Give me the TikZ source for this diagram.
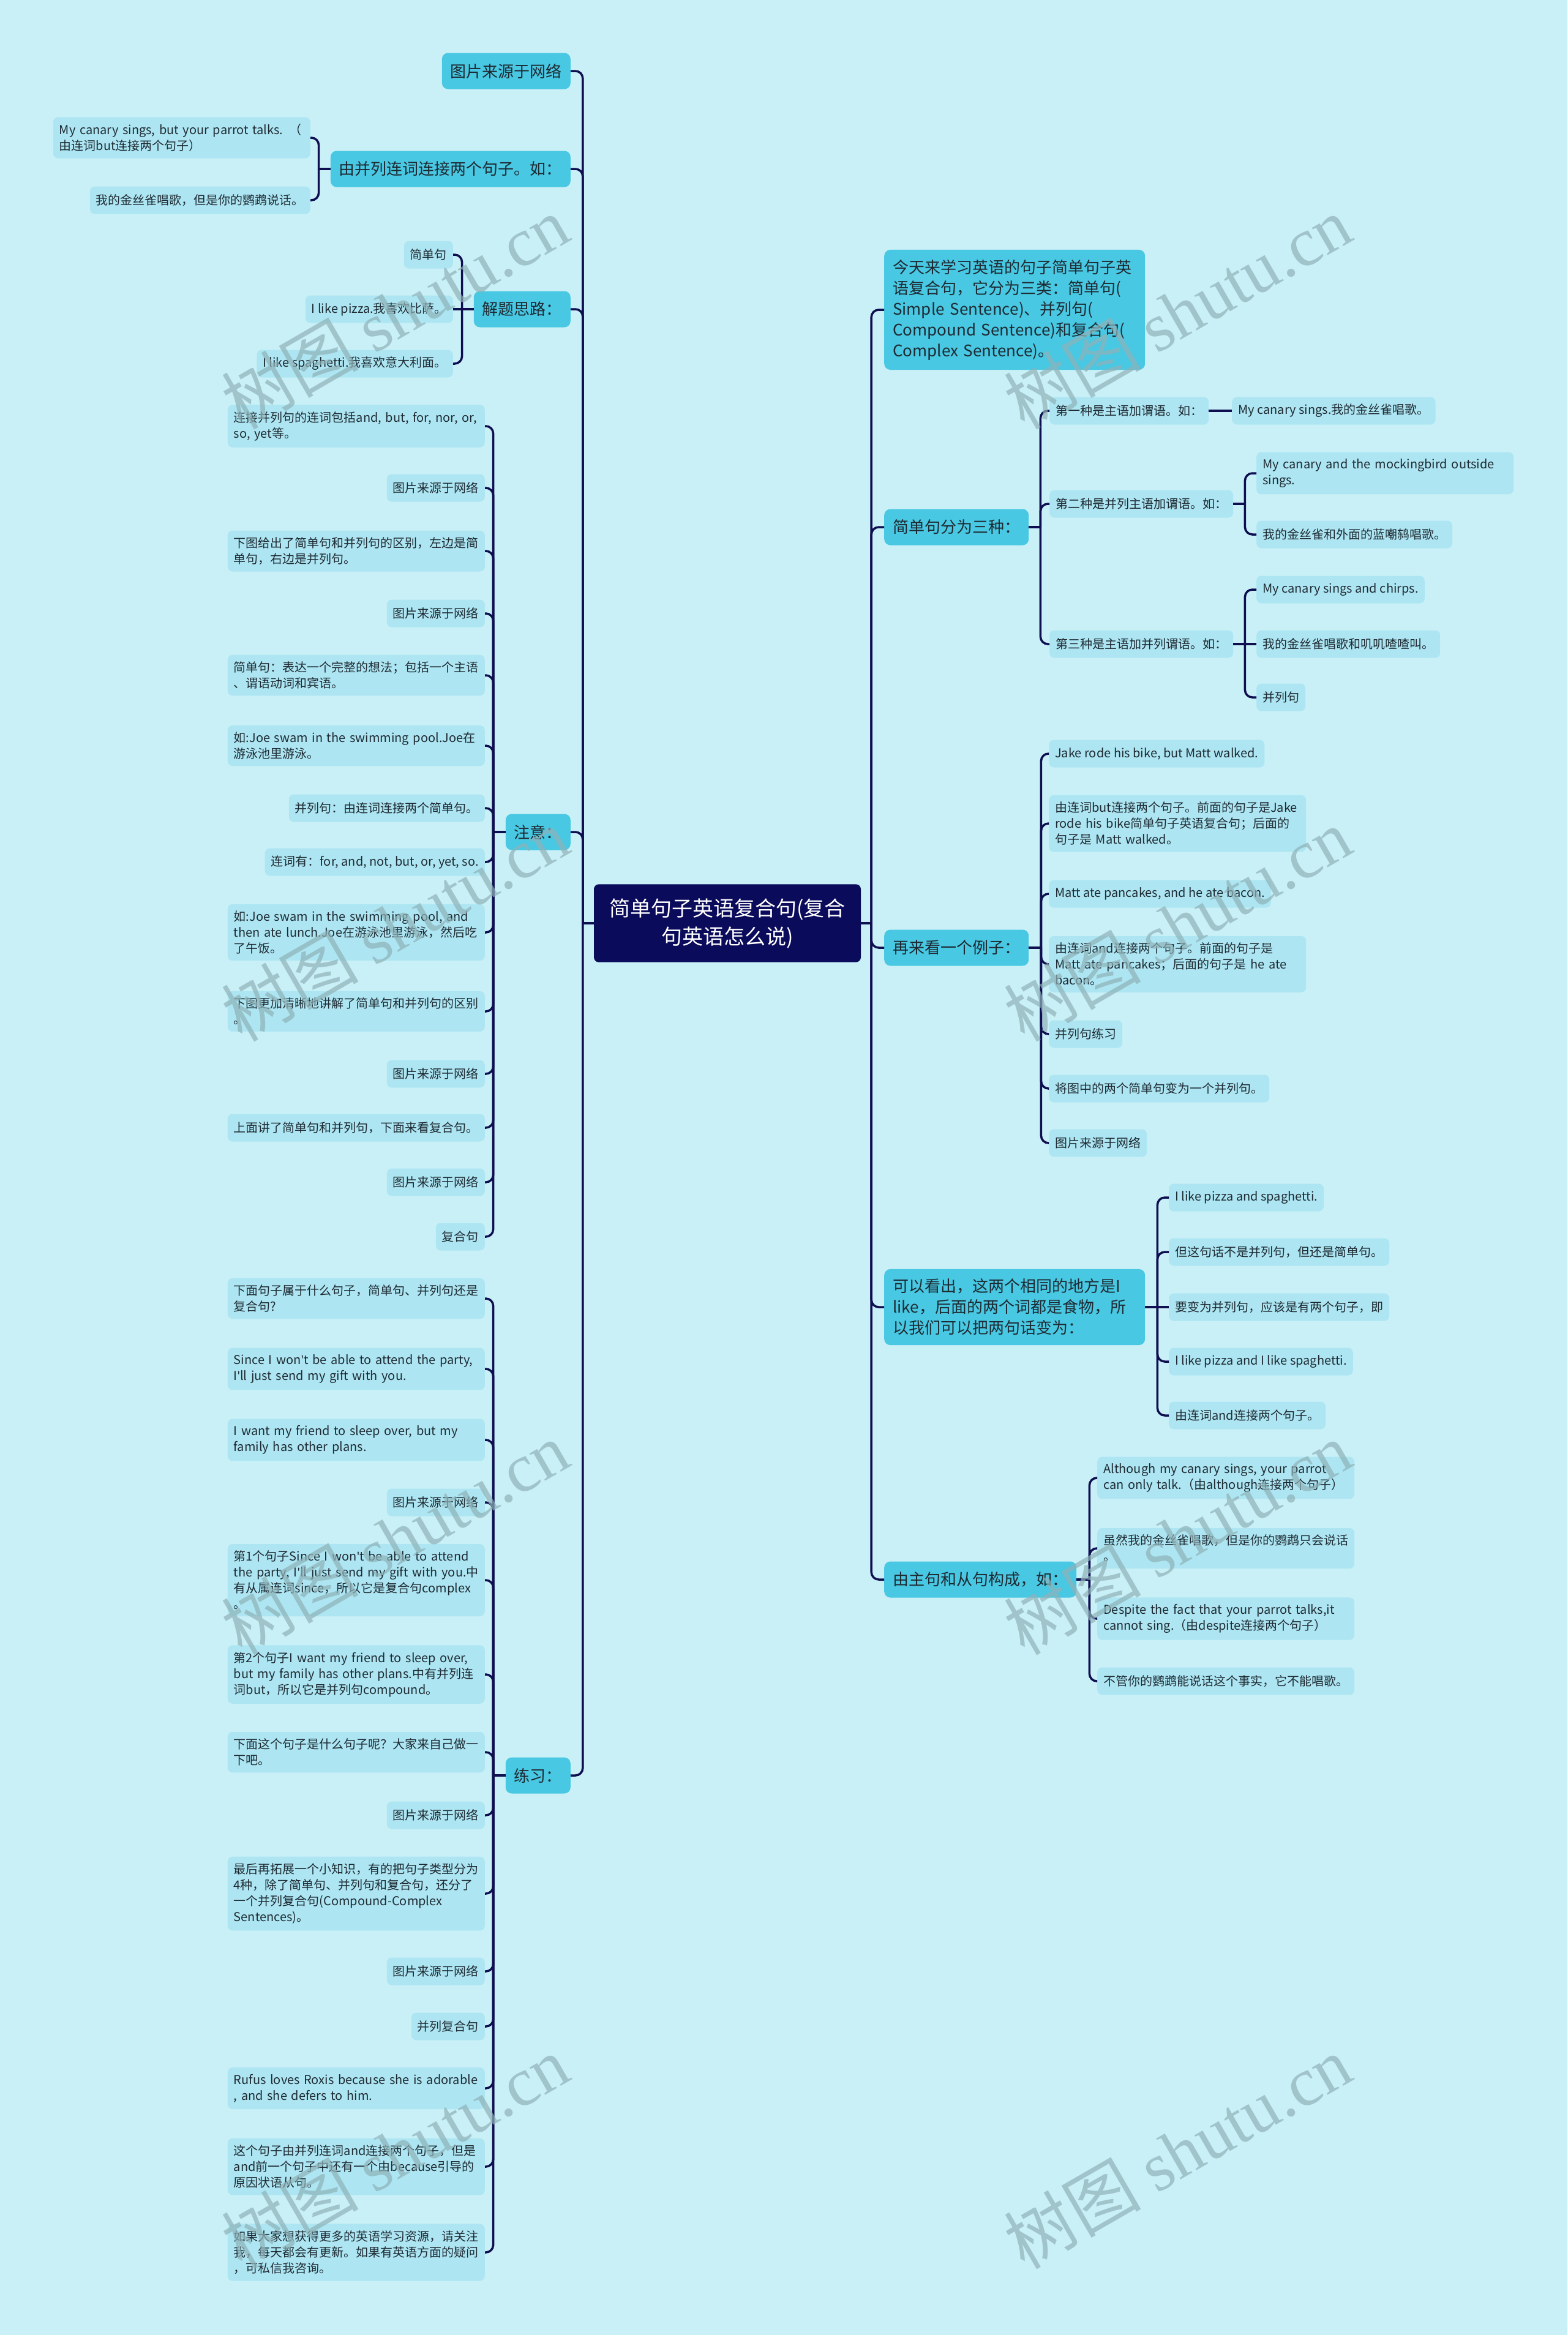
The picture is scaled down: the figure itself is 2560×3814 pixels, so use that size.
\documentclass[tikz,border=0pt]{standalone}
\usepackage{fontspec}
\setmainfont{Noto Sans CJK SC}
\newfontfamily\wmserif{Liberation Serif}
\newfontfamily\latf{Noto Sans}
\newcommand\ap{{\latf '}}
\usetikzlibrary{calc}
\definecolor{bgc}{HTML}{C9F0F7}
\definecolor{mainc}{HTML}{48C8E2}
\definecolor{leafc}{HTML}{ADE6F2}
\definecolor{rootc}{HTML}{0B0B5C}
\definecolor{linec}{HTML}{0E0E50}
\definecolor{txtc}{HTML}{1E2A33}
\definecolor{wmc}{HTML}{8FB2B8}
\tikzset{
  rootbox/.style={fill=rootc, text=white, rounded corners=8pt, inner xsep=14pt, inner ysep=23pt,
    minimum width=436pt, align=center, font=\fontsize{34}{46}\selectfont},
  mainbox/.style={fill=mainc, text=txtc, rounded corners=10pt, inner xsep=14pt, inner ysep=16pt,
    minimum height=59pt, align=left, font=\fontsize{26}{34}\selectfont},
  leafbox/.style={fill=leafc, text=txtc, rounded corners=8pt, inner xsep=10pt, inner ysep=11pt,
    minimum height=45pt, align=left, font=\fontsize{20}{26}\selectfont},
  wide/.style={text width=400pt},
  mwide/.style={text width=398pt},
  conn/.style={draw=linec, line width=3.5pt, rounded corners=12pt},
  wm/.style={text=wmc, opacity=0.7, rotate=30, font=\fontsize{112}{120}\selectfont}
}
\begin{document}
\begin{tikzpicture}[x=1pt,y=-1pt]
\useasboundingbox (0,0) rectangle (2560,3814);
\fill[bgc] (0,0) rectangle (2560,3814);

% root
\node[rootbox] (root) at (1188,1508) {简单句子英语复合句(复合\\句英语怎么说)};

% ---------- left main ----------
\node[mainbox, anchor=east] (L1) at (932,116) {图片来源于网络};
\node[mainbox, anchor=east] (L2) at (932,276) {由并列连词连接两个句子。如：};
\node[mainbox, anchor=east] (L3) at (932,505) {解题思路：};
\node[mainbox, anchor=east] (L4) at (932,1359) {注意：};
\node[mainbox, anchor=east] (L5) at (932,2900) {练习：};

\node[leafbox, wide, anchor=east] (L2a) at (507,225) {My canary sings, but your parrot talks. （\\由连词but连接两个句子）};
\node[leafbox, anchor=east] (L2b) at (507,327) {我的金丝雀唱歌，但是你的鹦鹉说话。};

\node[leafbox, anchor=east] (L3a) at (740,416) {简单句};
\node[leafbox, anchor=east] (L3b) at (740,505) {I like pizza.我喜欢比萨。};
\node[leafbox, anchor=east] (L3c) at (740,594) {I like spaghetti.我喜欢意大利面。};

% notes
\node[leafbox, wide, anchor=east] (n1) at (792,696) {连接并列句的连词包括and, but, for, nor, or,\\ so, yet等。};
\node[leafbox, anchor=east] (n2) at (792,797) {图片来源于网络};
\node[leafbox, wide, anchor=east] (n3) at (792,900) {下图给出了简单句和并列句的区别，左边是简\\单句，右边是并列句。};
\node[leafbox, anchor=east] (n4) at (792,1002) {图片来源于网络};
\node[leafbox, wide, anchor=east] (n5) at (792,1103) {简单句：表达一个完整的想法；包括一个主语\\、谓语动词和宾语。};
\node[leafbox, wide, anchor=east] (n6) at (792,1218) {如:Joe swam in the swimming pool.Joe在\\游泳池里游泳。};
\node[leafbox, anchor=east] (n7) at (792,1320) {并列句：由连词连接两个简单句。};
\node[leafbox, anchor=east] (n8) at (792,1408) {连词有：for, and, not, but, or, yet, so.};
\node[leafbox, wide, anchor=east] (n9) at (792,1523) {如:Joe swam in the swimming pool, and\\then ate lunch.Joe在游泳池里游泳，然后吃\\了午饭。};
\node[leafbox, wide, anchor=east] (n10) at (792,1652) {下图更加清晰地讲解了简单句和并列句的区别\\。};
\node[leafbox, anchor=east] (n11) at (792,1754) {图片来源于网络};
\node[leafbox, anchor=east] (n12) at (792,1842) {上面讲了简单句和并列句，下面来看复合句。};
\node[leafbox, anchor=east] (n13) at (792,1931) {图片来源于网络};
\node[leafbox, anchor=east] (n14) at (792,2020) {复合句};

% practice
\node[leafbox, wide, anchor=east] (p1) at (792,2121) {下面句子属于什么句子，简单句、并列句还是\\复合句?};
\node[leafbox, wide, anchor=east] (p2) at (792,2236) {Since I won\ap t be able to attend the party,\\I\ap ll just send my gift with you.};
\node[leafbox, wide, anchor=east] (p3) at (792,2352) {I want my friend to sleep over, but my\\family has other plans.};
\node[leafbox, anchor=east] (p4) at (792,2454) {图片来源于网络};
\node[leafbox, wide, anchor=east] (p5) at (792,2581) {第1个句子Since I won\ap t be able to attend\\the party, I\ap ll just send my gift with you.中\\有从属连词since，所以它是复合句complex\\。};
\node[leafbox, wide, anchor=east] (p6) at (792,2735) {第2个句子I want my friend to sleep over,\\but my family has other plans.中有并列连\\词but，所以它是并列句compound。};
\node[leafbox, wide, anchor=east] (p7) at (792,2862) {下面这个句子是什么句子呢？大家来自己做一\\下吧。};
\node[leafbox, anchor=east] (p8) at (792,2965) {图片来源于网络};
\node[leafbox, wide, anchor=east] (p9) at (792,3093) {最后再拓展一个小知识，有的把句子类型分为\\4种，除了简单句、并列句和复合句，还分了\\一个并列复合句(Compound-Complex\\Sentences)。};
\node[leafbox, anchor=east] (p10) at (792,3220) {图片来源于网络};
\node[leafbox, anchor=east] (p11) at (792,3310) {并列复合句};
\node[leafbox, wide, anchor=east] (p12) at (792,3411) {Rufus loves Roxis because she is adorable\\, and she defers to him.};
\node[leafbox, wide, anchor=east] (p13) at (792,3539) {这个句子由并列连词and连接两个句子，但是\\and前一个句子中还有一个由because引导的\\原因状语从句。};
\node[leafbox, wide, anchor=east] (p14) at (792,3679) {如果大家想获得更多的英语学习资源，请关注\\我，每天都会有更新。如果有英语方面的疑问\\，可私信我咨询。};

% ---------- right main ----------
\node[mainbox, mwide, anchor=west] (R1) at (1444,506) {今天来学习英语的句子简单句子英\\语复合句，它分为三类：简单句(\\Simple Sentence)、并列句(\\Compound Sentence)和复合句(\\Complex Sentence)。};
\node[mainbox, anchor=west] (R2) at (1444,861) {简单句分为三种：};
\node[mainbox, anchor=west] (R3) at (1444,1548) {再来看一个例子：};
\node[mainbox, mwide, anchor=west] (R4) at (1444,2135) {可以看出，这两个相同的地方是I\\like，后面的两个词都是食物，所\\以我们可以把两句话变为：};
\node[mainbox, anchor=west] (R5) at (1444,2580) {由主句和从句构成，如：};

\node[leafbox, anchor=west] (R2a) at (1714,671) {第一种是主语加谓语。如：};
\node[leafbox, anchor=west] (R2a1) at (2012,671) {My canary sings.我的金丝雀唱歌。};
\node[leafbox, anchor=west] (R2b) at (1714,823) {第二种是并列主语加谓语。如：};
\node[leafbox, wide, anchor=west] (R2b1) at (2052,773) {My canary and the mockingbird outside\\sings.};
\node[leafbox, anchor=west] (R2b2) at (2052,873) {我的金丝雀和外面的蓝嘲鸫唱歌。};
\node[leafbox, anchor=west] (R2c) at (1714,1052) {第三种是主语加并列谓语。如：};
\node[leafbox, anchor=west] (R2c1) at (2052,963) {My canary sings and chirps.};
\node[leafbox, anchor=west] (R2c2) at (2052,1052) {我的金丝雀唱歌和叽叽喳喳叫。};
\node[leafbox, anchor=west] (R2c3) at (2052,1139) {并列句};

\node[leafbox, anchor=west] (R3a) at (1713,1231) {Jake rode his bike, but Matt walked.};
\node[leafbox, wide, anchor=west] (R3b) at (1713,1345) {由连词but连接两个句子。前面的句子是Jake\\rode his bike简单句子英语复合句；后面的\\句子是 Matt walked。};
\node[leafbox, anchor=west] (R3c) at (1713,1460) {Matt ate pancakes, and he ate bacon.};
\node[leafbox, wide, anchor=west] (R3d) at (1713,1575) {由连词and连接两个句子。前面的句子是\\Matt ate pancakes；后面的句子是 he ate\\bacon。};
\node[leafbox, anchor=west] (R3e) at (1713,1689) {并列句练习};
\node[leafbox, anchor=west] (R3f) at (1713,1778) {将图中的两个简单句变为一个并列句。};
\node[leafbox, anchor=west] (R3g) at (1713,1867) {图片来源于网络};

\node[leafbox, anchor=west] (R4a) at (1909,1956) {I like pizza and spaghetti.};
\node[leafbox, anchor=west] (R4b) at (1909,2045) {但这句话不是并列句，但还是简单句。};
\node[leafbox, anchor=west] (R4c) at (1909,2135) {要变为并列句，应该是有两个句子，即};
\node[leafbox, anchor=west] (R4d) at (1909,2224) {I like pizza and I like spaghetti.};
\node[leafbox, anchor=west] (R4e) at (1909,2312) {由连词and连接两个句子。};

\node[leafbox, wide, anchor=west] (R5a) at (1792,2414) {Although my canary sings, your parrot\\can only talk.（由although连接两个句子）};
\node[leafbox, wide, anchor=west] (R5b) at (1792,2529) {虽然我的金丝雀唱歌，但是你的鹦鹉只会说话\\。};
\node[leafbox, wide, anchor=west] (R5c) at (1792,2644) {Despite the fact that your parrot talks,it\\cannot sing.（由despite连接两个句子）};
\node[leafbox, anchor=west] (R5d) at (1792,2746) {不管你的鹦鹉能说话这个事实，它不能唱歌。};

% ---------- connectors ----------
\coordinate (LT) at ($(root.west)+(-18,0)$);
\coordinate (RT) at ($(root.east)+(17,0)$);
\draw[conn] (root.west) -- (LT);
\draw[conn] (root.east) -- (RT);
\foreach \c in {L1,L2,L3,L4,L5} \draw[conn] (LT) |- (\c.east);
\foreach \c in {R1,R2,R3,R4,R5} \draw[conn] (RT) |- (\c.west);

\coordinate (L2t) at ($(L2.west)+(-19,0)$);
\draw[conn] (L2.west) -- (L2t);
\foreach \c in {L2a,L2b} \draw[conn] (L2t) |- (\c.east);

\coordinate (L3t) at ($(L3.west)+(-19,0)$);
\draw[conn] (L3.west) -- (L3b.east);
\foreach \c in {L3a,L3c} \draw[conn] (L3t) |- (\c.east);

\coordinate (L4t) at ($(L4.west)+(-20,0)$);
\draw[conn] (L4.west) -- (L4t);
\foreach \c in {n1,n2,n3,n4,n5,n6,n7,n8,n9,n10,n11,n12,n13,n14} \draw[conn] (L4t) |- (\c.east);

\coordinate (L5t) at ($(L5.west)+(-20,0)$);
\draw[conn] (L5.west) -- (L5t);
\foreach \c in {p1,p2,p3,p4,p5,p6,p7,p8,p9,p10,p11,p12,p13,p14} \draw[conn] (L5t) |- (\c.east);

\coordinate (R2t) at ($(R2.east)+(19,0)$);
\draw[conn] (R2.east) -- (R2t);
\foreach \c in {R2a,R2b,R2c} \draw[conn] (R2t) |- (\c.west);
\draw[conn] (R2a.east) -- (R2a1.west);
\coordinate (R2bt) at ($(R2b.east)+(19,0)$);
\draw[conn] (R2b.east) -- (R2bt);
\foreach \c in {R2b1,R2b2} \draw[conn] (R2bt) |- (\c.west);
\coordinate (R2ct) at ($(R2c.east)+(19,0)$);
\draw[conn] (R2c.east) -- (R2c2.west);
\foreach \c in {R2c1,R2c3} \draw[conn] (R2ct) |- (\c.west);

\coordinate (R3t) at ($(R3.east)+(20,0)$);
\draw[conn] (R3.east) -- (R3t);
\foreach \c in {R3a,R3b,R3c,R3d,R3e,R3f,R3g} \draw[conn] (R3t) |- (\c.west);

\coordinate (R4t) at ($(R4.east)+(20,0)$);
\draw[conn] (R4.east) -- (R4c.west);
\foreach \c in {R4a,R4b,R4d,R4e} \draw[conn] (R4t) |- (\c.west);

\coordinate (R5t) at ($(R5.east)+(21,0)$);
\draw[conn] (R5.east) -- (R5t);
\foreach \c in {R5a,R5b,R5c,R5d} \draw[conn] (R5t) |- (\c.west);

% ---------- watermark ----------
\foreach \wx in {645,1923} {
  \foreach \wy in {510,1510,2512,3515} {
    \node[wm] at (\wx,\wy) {树图 {\wmserif shutu.cn}};
  }
}
\end{tikzpicture}
\end{document}
